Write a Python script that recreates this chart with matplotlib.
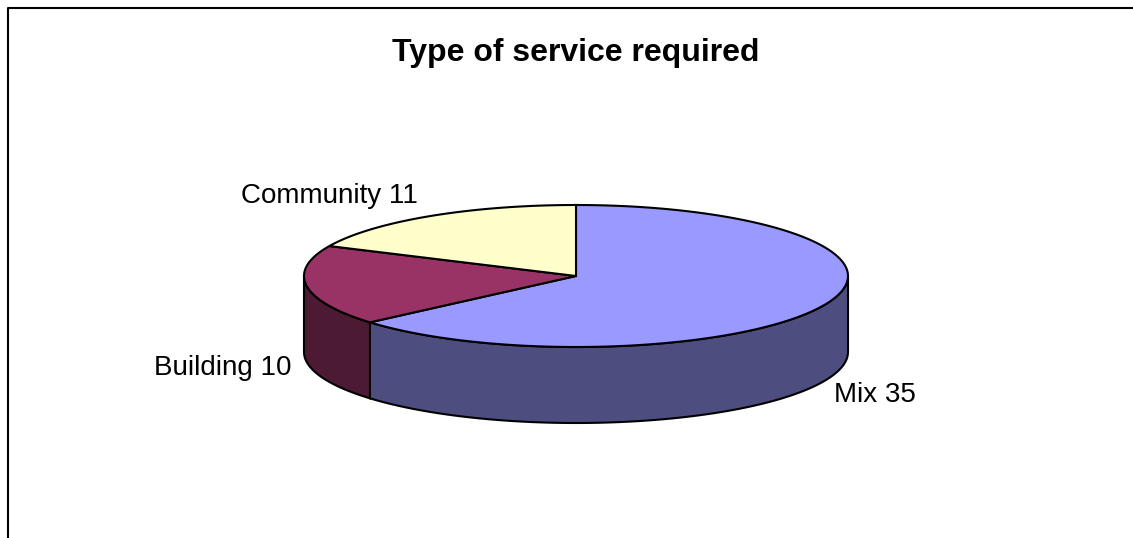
import numpy as np
import matplotlib
matplotlib.use("Agg")
import matplotlib.pyplot as plt
from matplotlib.patches import Polygon

categories = ["Mix", "Building", "Community"]
values = [35, 10, 11]
top_colors = ["#9999FF", "#993366", "#FFFFCC"]
side_colors = ["#4D4D80", "#4D1A33", "#80805F"]

W, H = 1133, 538
CX, CY, RX, RY, DEPTH = 576, 276, 272, 71, 76
SKEW = np.deg2rad(6)  # tilted view pushes slice edges round the left side

plt.rcParams["font.family"] = ["Liberation Sans", "DejaVu Sans"]
fig = plt.figure(figsize=(W / 100, H / 100), dpi=100)
ax = fig.add_axes([0, 0, 1, 1])
ax.set_xlim(0, W)
ax.set_ylim(H, 0)
ax.axis("off")


def rim(theta):
    """Points on the disc edge; theta runs clockwise from the top."""
    return CX + RX * np.sin(theta), CY - RY * np.cos(theta)


edges = np.deg2rad(np.cumsum([0] + values) / sum(values) * 360)
edges = edges - SKEW * np.sin(edges)

# Side wall: only the front half of the disc (90 to 270 degrees) is visible
for i, color in enumerate(side_colors):
    lo, hi = max(edges[i], np.pi / 2), min(edges[i + 1], 3 * np.pi / 2)
    if hi <= lo:
        continue
    x, y = rim(np.linspace(lo, hi, 120))
    pts = np.r_[np.c_[x, y], np.c_[x, y + DEPTH][::-1]]
    ax.add_patch(Polygon(pts, closed=True, fc=color, ec="black", lw=1.5))

# Top face of each slice
for i, color in enumerate(top_colors):
    x, y = rim(np.linspace(edges[i], edges[i + 1], 200))
    pts = np.r_[[[CX, CY]], np.c_[x, y]]
    ax.add_patch(Polygon(pts, closed=True, fc=color, ec="black", lw=1.5))

# Chart frame: only the top and left edges fall inside the image
ax.plot([7.5, 7.5, W], [H, 7.5, 7.5], color="black", lw=1.5)

ax.text(576, 53.5, "Type of service required", ha="center", va="center",
        fontsize=23, fontweight="bold")
label_pos = [(834, 395), (154, 368), (241, 196)]
for name, val, (lx, ly) in zip(categories, values, label_pos):
    ax.text(lx, ly, f"{name} {val}", ha="left", va="center", fontsize=20)

fig.savefig("out.png", dpi=100, facecolor="white")
